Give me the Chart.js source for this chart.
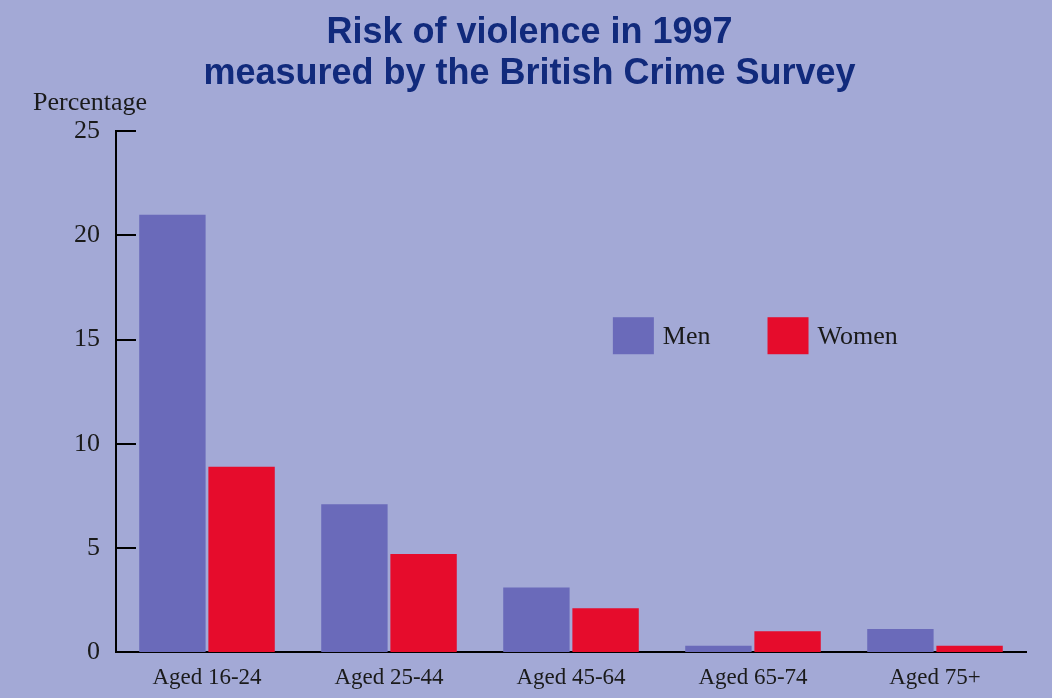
<!DOCTYPE html>
<html>
<head>
<meta charset="utf-8">
<script src="https://cdn.jsdelivr.net/npm/chart.js@4/dist/chart.umd.min.js"></script>
<style>
  html, body { margin: 0; padding: 0; background: #a3a9d6; }
  #wrap { width: 1052px; height: 698px; }
</style>
</head>
<body>
<div id="wrap"><canvas id="riskChart" width="1052" height="698"></canvas></div>
<script>
// Data
const ageGroups = ['Aged 16-24', 'Aged 25-44', 'Aged 45-64', 'Aged 65-74', 'Aged 75+'];
const menRisk = [21.0, 7.1, 3.1, 0.3, 1.1];
const womenRisk = [8.9, 4.7, 2.1, 1.0, 0.3];
const yTicks = [0, 5, 10, 15, 20, 25];

const menColour = '#6a6aba';
const womenColour = '#e60c2c';
const inkColour = '#1a1a1a';

// Paint the bluish backdrop
const backdrop = {
    id: 'backdrop',
    beforeDraw(chart) {
        const c = chart.ctx;
        c.save();
        c.fillStyle = '#a3a9d6';
        c.fillRect(0, 0, chart.width, chart.height);
        c.restore();
    }
};

// Tick marks point into the plot on this chart
const innerTicks = {
    id: 'innerTicks',
    afterDraw(chart) {
        const y = chart.scales.y;
        const c = chart.ctx;
        c.save();
        c.strokeStyle = '#000';
        c.lineWidth = 2;
        y.ticks.forEach((t, i) => {
            const py = Math.round(y.getPixelForTick(i));
            c.beginPath();
            c.moveTo(chart.chartArea.left, py);
            c.lineTo(chart.chartArea.left + 20, py);
            c.stroke();
        });
        c.restore();
    }
};

// Legend sits inside the plot, right of centre
const floatingLegend = {
    id: 'floatingLegend',
    afterDraw(chart) {
        const a = chart.chartArea;
        const c = chart.ctx;
        const top = a.top + (a.bottom - a.top) * 0.357;
        let x = a.left + (a.right - a.left) * 0.546;
        c.save();
        c.font = '26px "Liberation Serif"';
        c.textBaseline = 'middle';
        chart.data.datasets.forEach(ds => {
            c.fillStyle = ds.backgroundColor;
            c.fillRect(x, top, 41, 37);
            c.fillStyle = inkColour;
            c.fillText(ds.label, x + 50, top + 20);
            x += 50 + c.measureText(ds.label).width + 57;
        });
        c.restore();
    }
};

const ctx = document.getElementById('riskChart').getContext('2d');
const riskChart = new Chart(ctx, {
    type: 'bar',
    data: {
        labels: ageGroups,
        datasets: [{
            label: 'Men',
            data: menRisk,
            backgroundColor: menColour,
            barPercentage: 0.96,
            categoryPercentage: 0.76
        }, {
            label: 'Women',
            data: womenRisk,
            backgroundColor: womenColour,
            barPercentage: 0.96,
            categoryPercentage: 0.76
        }]
    },
    options: {
        responsive: false,
        animation: false,
        layout: {
            padding: { left: 33, right: 26, top: 0, bottom: 0 }
        },
        scales: {
            x: {
                afterFit(scale) { scale.height = 46; },
                grid: { display: false, drawTicks: false },
                border: { display: true, color: '#000', width: 2 },
                ticks: {
                    color: inkColour,
                    padding: 12,
                    font: { family: '"Liberation Serif"', size: 23 }
                }
            },
            y: {
                min: 0,
                max: 25,
                afterFit(scale) { scale.width = 83; },
                afterBuildTicks(scale) { scale.ticks = yTicks.map(v => ({ value: v })); },
                grid: { display: false, drawTicks: false },
                border: { display: true, color: '#000', width: 2 },
                ticks: {
                    color: inkColour,
                    padding: 16,
                    font: { family: '"Liberation Serif"', size: 26 }
                }
            }
        },
        plugins: {
            legend: { display: false },
            tooltip: { enabled: false },
            title: {
                display: true,
                text: ['Risk of violence in 1997', 'measured by the British Crime Survey'],
                color: '#112a7c',
                font: { family: '"Liberation Sans"', size: 36, weight: 'bold', lineHeight: 1.13 },
                padding: { top: 13, bottom: 0 }
            },
            subtitle: {
                display: true,
                text: 'Percentage',
                align: 'start',
                color: inkColour,
                font: { family: '"Liberation Serif"', size: 26, lineHeight: 0.5 },
                padding: { top: 2, bottom: 22 }
            }
        }
    },
    plugins: [backdrop, innerTicks, floatingLegend]
});
</script>
</body>
</html>
